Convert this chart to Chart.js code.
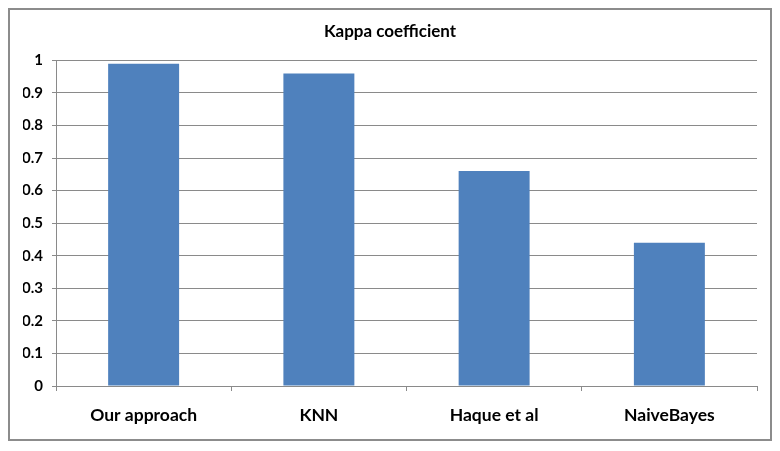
<!DOCTYPE html>
<html lang="en">
<head>
    <meta charset="UTF-8">
    <title>Kappa coefficient</title>
    <script src="https://cdn.jsdelivr.net/npm/chart.js"></script>
    <style>
        body {
            margin: 0;
            background: #fff;
        }
        #wrap {
            width: 780px;
            height: 451px;
        }
    </style>
</head>
<body>
    <div id="wrap"><canvas id="kappaChart" width="780" height="451"></canvas></div>

    <script>
        // chart data
        const categories = ["Our approach", "KNN", "Haque et al", "NaiveBayes"];
        const kappaValues = [0.99, 0.96, 0.66, 0.44];
        const yTickLabels = ["0", "0.1", "0.2", "0.3", "0.4", "0.5", "0.6", "0.7", "0.8", "0.9", "1"];

        const gridGray = "#8a8a8a";

        // outer frame like the spreadsheet chart box
        const frame = {
            id: "frame",
            beforeDraw(chart) {
                const c = chart.ctx;
                c.save();
                c.fillStyle = "#fff";
                c.fillRect(0, 0, chart.width, chart.height);
                c.strokeStyle = "#8c8c8c";
                c.lineWidth = 2;
                c.strokeRect(9, 9, 762, 431);
                c.restore();
            }
        };

        const ctx = document.getElementById("kappaChart").getContext("2d");
        new Chart(ctx, {
            type: "bar",
            data: {
                labels: categories,
                datasets: [{
                    label: "Kappa coefficient",
                    data: kappaValues,
                    backgroundColor: "#4f81bd",
                    categoryPercentage: 1,
                    barPercentage: 0.405
                }]
            },
            options: {
                responsive: false,
                animation: false,
                // left/right equal so the title centres on the page
                layout: { padding: { left: 23, right: 23, top: 0, bottom: 0 } },
                plugins: {
                    legend: { display: false },
                    tooltip: { enabled: false },
                    title: {
                        display: true,
                        text: "Kappa coefficient",
                        color: "#000",
                        font: { family: "Lato", size: 17, weight: "bold" },
                        padding: { top: 21, bottom: 19 }
                    }
                },
                scales: {
                    x: {
                        afterFit(scale) { scale.height = 65; },
                        grid: {
                            drawOnChartArea: false,
                            color: gridGray,
                            tickLength: 5,
                            offset: true
                        },
                        border: { color: gridGray, width: 1 },
                        ticks: {
                            color: "#000",
                            padding: 14,
                            font: { family: "Lato", size: 17.5, weight: "bold" }
                        }
                    },
                    y: {
                        min: 0,
                        max: 1,
                        afterFit(scale) { scale.width = 33; },
                        grid: {
                            color: gridGray,
                            tickLength: 4
                        },
                        border: { color: gridGray, width: 1 },
                        ticks: {
                            stepSize: 0.1,
                            color: "#000",
                            padding: 9,
                            font: { family: "Lato", size: 15, weight: "bold" },
                            callback: (value, index) => yTickLabels[index]
                        }
                    }
                }
            },
            plugins: [frame]
        });
    </script>
</body>
</html>
